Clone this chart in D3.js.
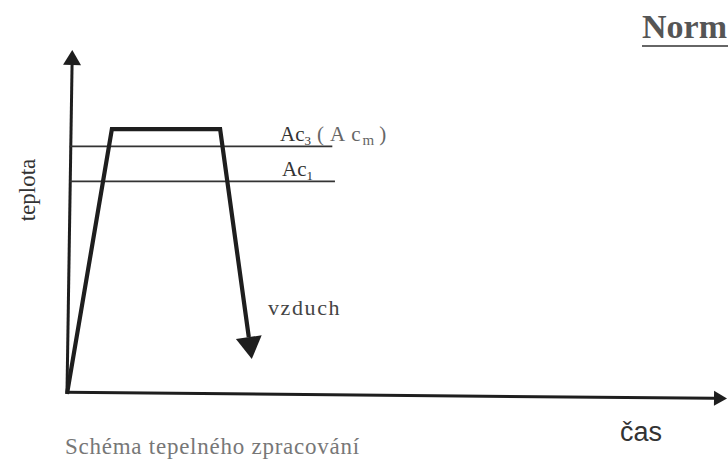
<!DOCTYPE html>
<html>
<head>
<meta charset="utf-8">
<script src="https://cdn.jsdelivr.net/npm/d3@7"></script>
<style>
html,body{margin:0;padding:0;background:#fff;overflow:hidden;}
svg{display:block;}
</style>
</head>
<body>
<svg id="chart" width="728" height="467"></svg>
<script>
// ---- data (time, temperature in arbitrary schematic units) ----
const cycleTime = [0, 6.8, 23.2, 28.0];
const cycleTemp = [0, 77, 77, 10.2];
const levelNames = ["Ac3", "Ac1"];
const levelTemps = [72, 61.8];
const levelEnds = [40.2, 40.6];
const xAxisTime = [0, 100];
const xAxisTemp = [0.5, -1.3];
const yAxisTime = [0, 0.8];
const yAxisTemp = [0.5, 100];
const axisLabels = ["teplota", "čas"];
const coolingLabel = "vzduch";
const caption = "Schéma tepelného zpracování";
const title = "Norm";

const svg = d3.select("#chart");
const x = d3.scaleLinear().domain([0, 100]).range([67, 727]);
const y = d3.scaleLinear().domain([0, 100]).range([394, 50]);
const ink = "#1e1e1e";

// arrow head helper (tip at p, direction from q to p)
function head(p, q, len, wid) {
  const dx = p[0] - q[0], dy = p[1] - q[1];
  const L = Math.hypot(dx, dy), ux = dx / L, uy = dy / L;
  const bx = p[0] - ux * len, by = p[1] - uy * len;
  return {
    path: `M${p[0]},${p[1]}L${bx - uy * wid / 2},${by + ux * wid / 2}L${bx + uy * wid / 2},${by - ux * wid / 2}Z`,
    base: [bx, by]
  };
}

// ---- title ----
svg.append("text").attr("x", 642).attr("y", 38)
  .attr("font-family", "Liberation Serif").attr("font-weight", "bold")
  .attr("font-size", 34).attr("fill", "#555").text(title);
svg.append("line").attr("x1", 642).attr("x2", 728).attr("y1", 46).attr("y2", 46)
  .attr("stroke", "#666").attr("stroke-width", 2);

// ---- axes ----
{
  const p0 = [x(yAxisTime[0]), y(yAxisTemp[0])], p1 = [x(yAxisTime[1]), y(yAxisTemp[1])];
  const h = head(p1, p0, 15, 18);
  svg.append("line").attr("x1", p0[0]).attr("y1", p0[1]).attr("x2", h.base[0]).attr("y2", h.base[1])
    .attr("stroke", ink).attr("stroke-width", 3);
  svg.append("path").attr("d", h.path).attr("fill", ink);
}
{
  const p0 = [x(xAxisTime[0]), y(xAxisTemp[0])], p1 = [x(xAxisTime[1]), y(xAxisTemp[1])];
  const h = head(p1, p0, 13, 15);
  svg.append("line").attr("x1", p0[0] - 1).attr("y1", p0[1]).attr("x2", h.base[0]).attr("y2", h.base[1])
    .attr("stroke", ink).attr("stroke-width", 3);
  svg.append("path").attr("d", h.path).attr("fill", ink);
}

// ---- critical temperature lines ----
levelTemps.forEach((t, i) => {
  svg.append("line")
    .attr("x1", x(0.4)).attr("x2", x(levelEnds[i]))
    .attr("y1", y(t)).attr("y2", y(t))
    .attr("stroke", "#333").attr("stroke-width", 1.8);
});
// Ac3 (Acm) label
{
  const t = svg.append("text").attr("x", 280).attr("y", y(levelTemps[0]) - 5)
    .attr("font-family", "Liberation Serif").attr("font-size", 21).attr("fill", "#333");
  t.append("tspan").text("Ac");
  t.append("tspan").attr("font-size", 13).attr("dy", 4).text("3");
  t.append("tspan").attr("dy", -4).attr("dx", 6).attr("letter-spacing", 6).attr("fill", "#666").text("(A");
  t.append("tspan").attr("letter-spacing", 2).attr("fill", "#666").text("c");
  t.append("tspan").attr("font-size", 15).attr("dy", 4).attr("fill", "#666").text("m");
  t.append("tspan").attr("dy", -4).attr("dx", 5).attr("fill", "#666").text(")");
}
{
  const t = svg.append("text").attr("x", 282).attr("y", y(levelTemps[1]) - 5)
    .attr("font-family", "Liberation Serif").attr("font-size", 21).attr("fill", "#333");
  t.append("tspan").text("Ac");
  t.append("tspan").attr("font-size", 13).attr("dy", 4).text("1");
}

// ---- heat-treatment cycle ----
const pts = cycleTime.map((t, i) => [x(t), y(cycleTemp[i])]);
const n = pts.length;
const ch = head(pts[n - 1], pts[n - 2], 22, 26);
const linePts = pts.slice(0, n - 1).concat([ch.base]);
svg.append("path").attr("d", d3.line()(linePts))
  .attr("fill", "none").attr("stroke", ink).attr("stroke-width", 4.2)
  .attr("stroke-linejoin", "miter");
svg.append("path").attr("d", ch.path).attr("fill", ink);

// ---- labels ----
svg.append("text").attr("x", 268).attr("y", 315)
  .attr("font-family", "Liberation Serif").attr("font-size", 22).attr("letter-spacing", 1.6)
  .attr("fill", "#444").text(coolingLabel);

svg.append("text").attr("transform", "translate(35,190) rotate(-90)")
  .attr("text-anchor", "middle")
  .attr("font-family", "Liberation Serif").attr("font-size", 23)
  .attr("fill", "#333").text(axisLabels[0]);

svg.append("text").attr("x", 641).attr("y", 441).attr("text-anchor", "middle")
  .attr("font-family", "Liberation Sans").attr("font-size", 27)
  .attr("fill", "#333").text(axisLabels[1]);

svg.append("text").attr("x", 65).attr("y", 454)
  .attr("font-family", "Liberation Serif").attr("font-size", 23).attr("letter-spacing", 0.75)
  .attr("fill", "#777").text(caption);
</script>
</body>
</html>
